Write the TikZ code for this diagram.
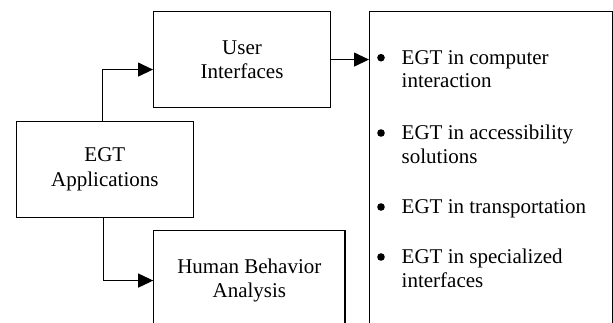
\documentclass[tikz,border=0pt]{standalone}
\usepackage{fontspec}
\setmainfont{Liberation Serif}
\usetikzlibrary{arrows.meta}
\begin{document}
\begin{tikzpicture}[x=1pt,y=-1pt,
  box/.style={draw,line width=1.1pt,anchor=north west,inner sep=0pt,align=center,font=\fontsize{21}{24.5}\selectfont},
  txt/.style={anchor=base west,inner sep=0pt,font=\fontsize{21}{24.5}\selectfont},
  bul/.style={circle,fill,inner sep=0pt,minimum size=7.6pt},
  arr/.style={line width=1.1pt,-{Triangle[length=15pt,width=14pt]}}]
\useasboundingbox (0,0) rectangle (613,322);
\clip (0,0) rectangle (613,322);
\node[box,minimum width=177pt,minimum height=96pt] (ui) at (153,11) {User\\Interfaces};
\node[box,minimum width=177.4pt,minimum height=96pt] (egt) at (15.6,120.7) {EGT\\Applications};
\node[box,minimum width=191.2pt,minimum height=100pt] (hb) at (153.2,230) {Human Behavior\\Analysis};
\node[box,minimum width=243pt,minimum height=319pt] (rb) at (369,11) {};
\draw[arr] ([xshift=-2pt]egt.north) |- ([yshift=-10pt]ui.west);
\draw[arr] ([xshift=-1pt]egt.south) |- (hb.west);
\draw[arr] (ui.east) -- (ui.east -| rb.west);
\node[bul] (b1) at (381,57.7) {};
\node[txt] (t1a) at (401.5,64) {EGT in computer};
\node[txt] (t1b) at (401.5,87.3) {interaction};
\node[bul] (b2) at (381,133) {};
\node[txt] (t2a) at (401.5,139.3) {EGT in accessibility};
\node[txt] (t2b) at (401.5,163.3) {solutions};
\node[bul] (b3) at (381,207) {};
\node[txt] (t3a) at (401.5,213.3) {EGT in transportation};
\node[bul] (b4) at (381,257) {};
\node[txt] (t4a) at (401.5,263.3) {EGT in specialized};
\node[txt] (t4b) at (401.5,287.3) {interfaces};
\end{tikzpicture}
\end{document}
